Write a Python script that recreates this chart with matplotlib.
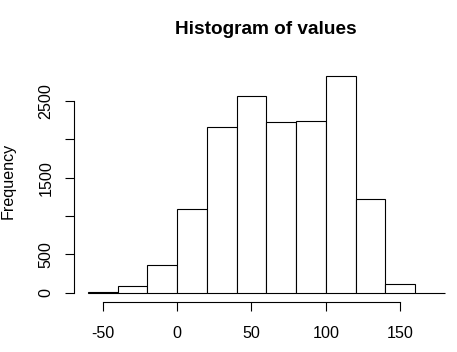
import matplotlib
matplotlib.use("Agg")
import matplotlib.pyplot as plt

# histogram data
breaks = [-60, -40, -20, 0, 20, 40, 60, 80, 100, 120, 140, 160, 180]
counts = [6, 91, 360, 1091, 2160, 2567, 2230, 2238, 2827, 1217, 113, 1]
xticks = [-50, 0, 50, 100, 150]
yticks = [0, 500, 1000, 1500, 2000, 2500]
ylabels = ["0", "500", "", "1500", "", "2500"]

plt.rcParams['font.family'] = ['Liberation Sans', 'DejaVu Sans']

W, H = 457, 352
fig = plt.figure(figsize=(W / 100, H / 100), dpi=100)
# plot region in pixels (R style: axes drawn at region edges)
left, right, top, bottom = 73.6, 459.0, 67.0, 301.5
ax = fig.add_axes([left / W, 1 - bottom / H, (right - left) / W, (bottom - top) / H])

lefts = breaks[:-1]
widths = [b - a for a, b in zip(breaks[:-1], breaks[1:])]
ax.bar(lefts, counts, width=widths, align='edge', facecolor='white',
       edgecolor='black', linewidth=0.8)

span = breaks[-1] - breaks[0]
ax.set_xlim(breaks[0] - 0.04 * span, breaks[-1] + 0.04 * span)
ymax = max(counts)
ax.set_ylim(-0.04 * ymax, 1.04 * ymax)

for s in ['top', 'right']:
    ax.spines[s].set_visible(False)
ax.spines['left'].set_bounds(yticks[0], yticks[-1])
ax.spines['bottom'].set_bounds(xticks[0], xticks[-1])
ax.spines['left'].set_linewidth(0.8)
ax.spines['bottom'].set_linewidth(0.8)

ax.set_xticks(xticks)
ax.set_xticklabels([str(t) for t in xticks])
ax.set_yticks(yticks)
ax.set_yticklabels(ylabels, rotation=90, va='center')
ax.tick_params(axis='both', direction='out', length=6.5, width=0.8,
               labelsize=11.6, colors='black')
ax.tick_params(axis='x', pad=11)
ax.tick_params(axis='y', pad=8)

fig.text((left + right) / 2 / W, 1 - 29 / H, "Histogram of values",
         ha='center', va='center', fontsize=13.7, fontweight='bold')
fig.text(8 / W, 1 - 181 / H, "Frequency", rotation=90,
         ha='center', va='center', fontsize=11.6)

fig.savefig("out.png", dpi=100)
